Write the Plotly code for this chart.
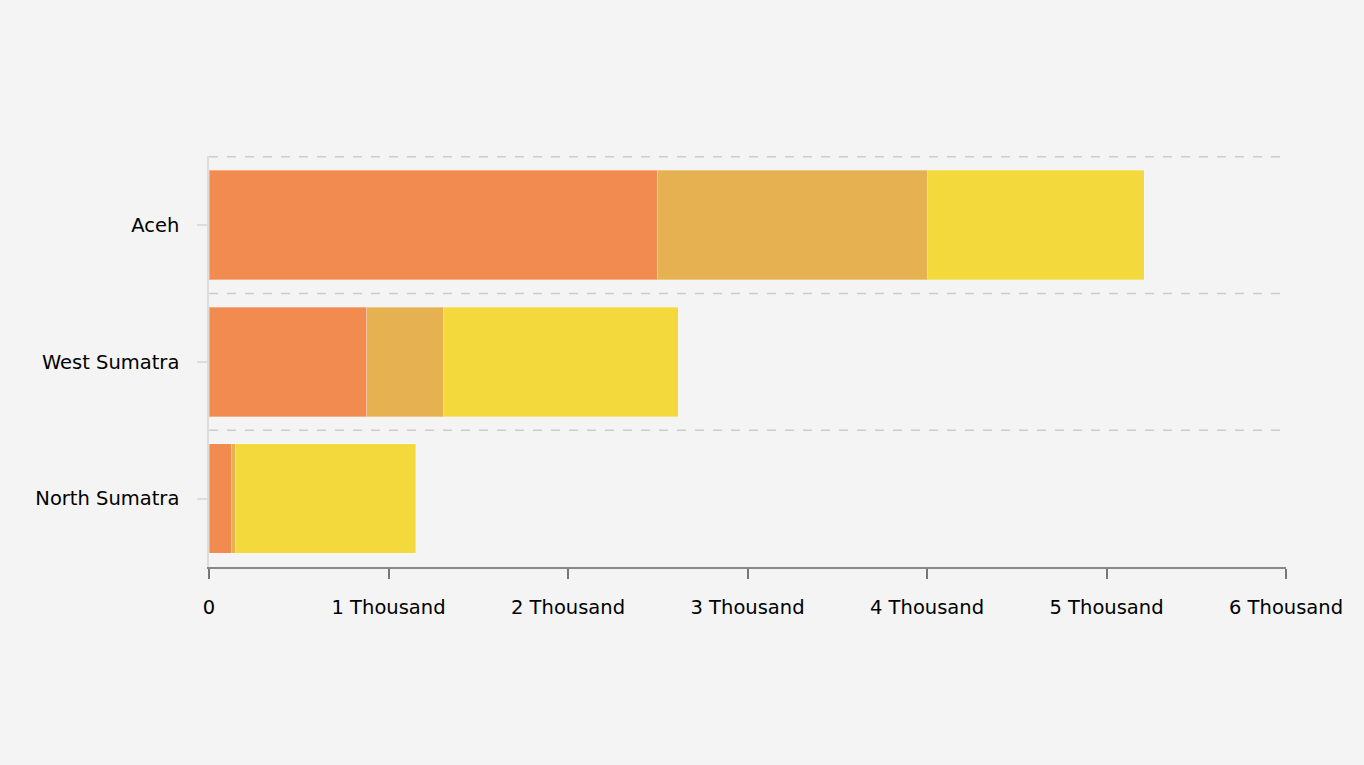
import plotly.graph_objects as go

categories = ["Aceh", "West Sumatra", "North Sumatra"]
series_names = ["Series 1", "Series 2", "Series 3"]
series1 = [2500, 880, 123]
series2 = [1505, 429, 27]
series3 = [1204, 1304, 1003]
colors = ["#F28B50", "#E6B150", "#F3D93C"]
tick_vals = [0, 1000, 2000, 3000, 4000, 5000, 6000]
tick_text = ["0", "1 Thousand", "2 Thousand", "3 Thousand", "4 Thousand", "5 Thousand", "6 Thousand"]

fig = go.Figure()
for name, vals, col in zip(series_names, [series1, series2, series3], colors):
    fig.add_trace(go.Bar(
        y=categories, x=vals, orientation="h", name=name,
        marker=dict(color=col, line=dict(color="rgba(255,255,255,0.3)", width=1)),
        width=0.8,
    ))

for yb in [-0.5, 0.5, 1.5]:
    fig.add_shape(type="line", xref="paper", x0=0, x1=1, yref="y", y0=yb, y1=yb,
                  line=dict(color="#CCCCCC", width=1.5, dash="dash"), layer="below")

fig.update_layout(
    barmode="stack",
    width=1364, height=765,
    paper_bgcolor="#F4F4F4", plot_bgcolor="#F4F4F4",
    margin=dict(l=209, r=78, t=156, b=198),
    showlegend=False,
    font=dict(family="DejaVu Sans, Verdana, sans-serif", size=19.5, color="#000000"),
    xaxis=dict(range=[0, 6000], tickvals=tick_vals, ticktext=tick_text,
               showgrid=False, zeroline=False, showline=True, linecolor="#888888", linewidth=1.5,
               ticks="outside", ticklen=10, tickcolor="#777777", tickwidth=1.5,
               ticklabelstandoff=12),
    yaxis=dict(autorange="reversed", showgrid=False, zeroline=False, showline=True,
               linecolor="#DDDDDD", linewidth=1.5, ticks="outside", ticklen=10,
               tickcolor="#DDDDDD", tickwidth=1.5, ticklabelstandoff=14),
)

fig.write_html("out.html", config={"displayModeBar": False},
               post_script="document.body.style.margin='0';document.body.style.overflow='hidden';")
